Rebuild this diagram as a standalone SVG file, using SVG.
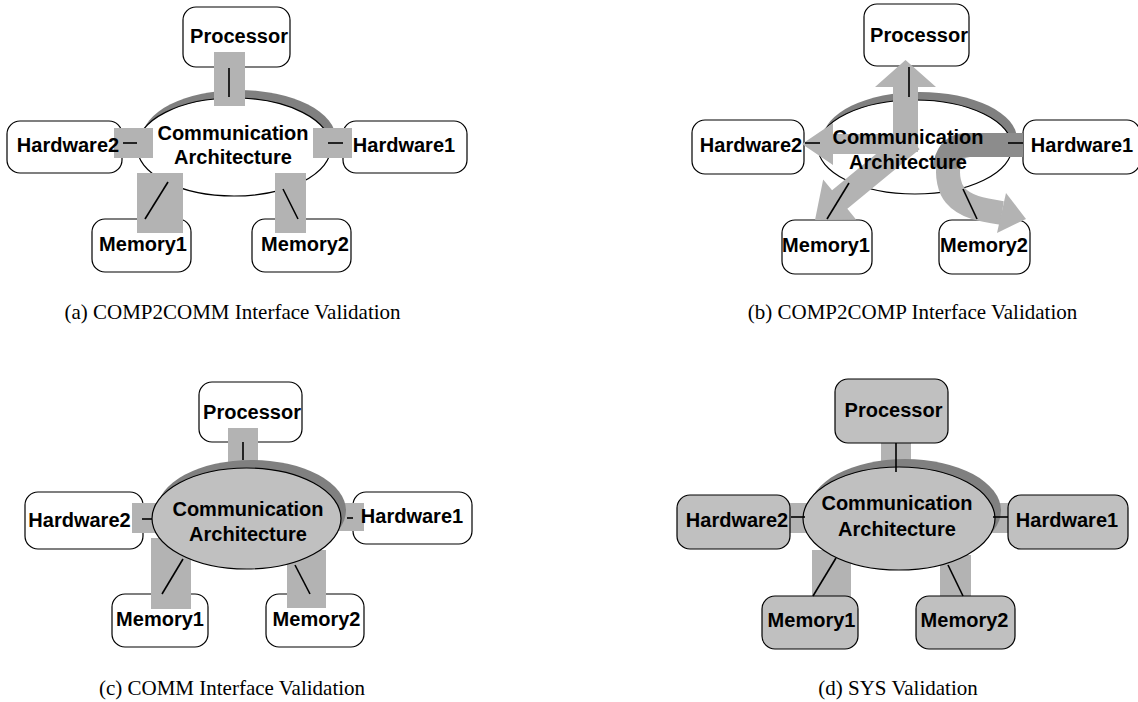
<svg xmlns="http://www.w3.org/2000/svg" width="1138" height="702" viewBox="0 0 1138 702">
<style>
.box{fill:#fff;stroke:#000;stroke-width:1.2}
.gbox{fill:#c0c0c0;stroke:#000;stroke-width:1.2}
.ell{fill:#fff;stroke:#000;stroke-width:1.2}
.gell{fill:#c0c0c0;stroke:#000;stroke-width:1.2}
.shadow{fill:#808080}
.port{fill:#b3b3b3}
.arr{fill:#b3b3b3}
.wire{stroke:#000;stroke-width:1.6;fill:none}
.lbl{font-family:"Liberation Sans",Arial,sans-serif;font-weight:bold;font-size:20px;text-anchor:middle;fill:#000}
.cap{font-family:"Liberation Serif","Times New Roman",serif;font-size:21px;text-anchor:middle;fill:#000}
</style>
<rect width="1138" height="702" fill="#fff"/>

<!-- Panel (a) -->
<g id="panel-a">
  <g id="a-comm">
    <ellipse class="shadow" cx="239" cy="139" rx="97" ry="49"/>
    <ellipse class="ell" cx="234" cy="147" rx="97" ry="49"/>
  </g>
  <g id="a-processor"><rect class="box" x="183" y="7" width="107" height="60" rx="13"/></g>
  <g id="a-hardware2"><rect class="box" x="7" y="121" width="115" height="52" rx="13"/></g>
  <g id="a-hardware1"><rect class="box" x="343" y="121" width="124" height="52" rx="13"/></g>
  <g id="a-memory1"><rect class="box" x="92" y="219" width="99" height="53" rx="13"/></g>
  <g id="a-memory2"><rect class="box" x="252" y="219" width="99" height="53" rx="13"/></g>
  <g id="a-connectors">
    <rect class="port" x="214" y="52" width="31" height="54"/>
    <rect class="port" x="114" y="128" width="39" height="30"/>
    <rect class="port" x="313" y="128" width="39" height="30"/>
    <rect class="port" x="137" y="173" width="46" height="60"/>
    <rect class="port" x="275" y="173" width="31" height="60"/>
    <line class="wire" x1="229" y1="68" x2="229" y2="97"/>
    <line class="wire" x1="123" y1="143" x2="137" y2="143"/>
    <line class="wire" x1="328" y1="143" x2="343" y2="143"/>
    <line class="wire" x1="168" y1="182" x2="145" y2="219"/>
    <line class="wire" x1="283" y1="189" x2="298" y2="219"/>
  </g>
  <g id="a-labels">
    <text class="lbl" x="239" y="43">Processor</text>
    <text class="lbl" x="68" y="152">Hardware2</text>
    <text class="lbl" x="404" y="152">Hardware1</text>
    <text class="lbl" x="143" y="251">Memory1</text>
    <text class="lbl" x="305" y="251">Memory2</text>
    <text class="lbl" x="233" y="140">Communication</text>
    <text class="lbl" x="233" y="164">Architecture</text>
  </g>
  <text class="cap" x="232.5" y="319">(a) COMP2COMM Interface Validation</text>
</g>

<!-- Panel (b) -->
<g id="panel-b">
  <g id="b-comm">
    <ellipse class="shadow" cx="920" cy="139" rx="97" ry="47"/>
    <ellipse class="ell" cx="915" cy="147" rx="97" ry="47"/>
  </g>
  <g id="b-processor"><rect class="box" x="864" y="4" width="105" height="62" rx="13"/></g>
  <g id="b-hardware2"><rect class="box" x="692" y="120" width="112" height="54" rx="13"/></g>
  <g id="b-hardware1"><rect class="box" x="1023" y="120" width="117" height="54" rx="13"/></g>
  <g id="b-memory1"><rect class="box" x="782" y="220" width="90" height="54" rx="13"/></g>
  <g id="b-memory2"><rect class="box" x="939" y="220" width="91" height="54" rx="13"/></g>
  <g id="b-connectors">
    <path d="M1023,145 L970,145 C944,145 944,182 955,195 C965,207 982,210 1002,213" fill="none" stroke="#b3b3b3" stroke-width="24"/>
    <path d="M1023,145 L966,145 C952,145 946,156 945,168" fill="none" stroke="#8c8c8c" stroke-width="24"/>
    <polygon class="arr" points="1006,193 1026,219 997,233"/>
    <polygon class="arr" points="893,152 893,87 875,87 905.5,60 936,87 918,87 918,152"/>
    <polygon class="arr" points="905,134 833,134 833,123 802,144 833,165 833,154 905,154"/>
    <polygon class="arr" transform="translate(912,140) rotate(140.5)" points="0,-12 93.7,-12 93.7,-26 125.7,0 93.7,26 93.7,12 0,12"/>
    <line class="wire" x1="909" y1="67" x2="909" y2="97"/>
    <line class="wire" x1="805" y1="143" x2="820" y2="143"/>
    <line class="wire" x1="1008" y1="143" x2="1023" y2="143"/>
    <line class="wire" x1="849" y1="183" x2="827" y2="219"/>
    <line class="wire" x1="963" y1="189" x2="977" y2="219"/>
  </g>
  <g id="b-labels">
    <text class="lbl" x="919" y="42">Processor</text>
    <text class="lbl" x="751" y="152">Hardware2</text>
    <text class="lbl" x="1082" y="152">Hardware1</text>
    <text class="lbl" x="826" y="252">Memory1</text>
    <text class="lbl" x="984" y="252">Memory2</text>
    <text class="lbl" x="908" y="144">Communication</text>
    <text class="lbl" x="908" y="169">Architecture</text>
  </g>
  <text class="cap" x="912.5" y="319">(b) COMP2COMP Interface Validation</text>
</g>

<!-- Panel (c) -->
<g id="panel-c">
  <g id="c-processor"><rect class="box" x="199" y="382" width="103" height="60" rx="13"/></g>
  <g id="c-hardware2"><rect class="box" x="25" y="492" width="118" height="57" rx="13"/></g>
  <g id="c-hardware1"><rect class="box" x="353" y="492" width="119" height="52" rx="13"/></g>
  <g id="c-memory1"><rect class="box" x="112" y="594" width="96" height="53" rx="13"/></g>
  <g id="c-memory2"><rect class="box" x="266" y="594" width="98" height="53" rx="13"/></g>
  <g id="c-ports">
    <rect class="port" x="228" y="428" width="30" height="40"/>
    <rect class="port" x="132" y="503" width="28" height="30"/>
    <rect class="port" x="338" y="503" width="26" height="28"/>
    <rect class="port" x="151" y="538" width="40" height="71"/>
    <rect class="port" x="287" y="550" width="39" height="58"/>
  </g>
  <g id="c-comm">
    <ellipse class="shadow" cx="251.5" cy="510.5" rx="94.5" ry="50.5"/>
    <ellipse class="gell" cx="246.5" cy="518.5" rx="94.5" ry="50.5"/>
  </g>
  <g id="c-connectors">
    <line class="wire" x1="243" y1="442" x2="243" y2="460"/>
    <line class="wire" x1="142" y1="519" x2="152" y2="519"/>
    <line class="wire" x1="347" y1="518" x2="353" y2="518"/>
    <line class="wire" x1="183" y1="559" x2="162" y2="594"/>
    <line class="wire" x1="295" y1="565" x2="310" y2="594"/>
  </g>
  <g id="c-labels">
    <text class="lbl" x="252" y="419">Processor</text>
    <text class="lbl" x="79.5" y="527">Hardware2</text>
    <text class="lbl" x="412" y="523">Hardware1</text>
    <text class="lbl" x="160" y="626">Memory1</text>
    <text class="lbl" x="316.5" y="626">Memory2</text>
    <text class="lbl" x="248" y="516">Communication</text>
    <text class="lbl" x="248" y="541">Architecture</text>
  </g>
  <text class="cap" x="232" y="695">(c) COMM Interface Validation</text>
</g>

<!-- Panel (d) -->
<g id="panel-d">
  <g id="d-ports">
    <rect class="port" x="881" y="440" width="30" height="35"/>
    <rect class="port" x="785" y="503" width="25" height="30"/>
    <rect class="port" x="990" y="503" width="20" height="30"/>
    <rect class="port" x="812" y="550" width="39" height="48"/>
    <rect class="port" x="940" y="555" width="31" height="43"/>
  </g>
  <g id="d-comm">
    <ellipse class="shadow" cx="905" cy="510.5" rx="96" ry="51.5"/>
    <ellipse class="gell" cx="899" cy="518.5" rx="96" ry="51.5"/>
  </g>
  <g id="d-processor"><rect class="gbox" x="835" y="379" width="113" height="64" rx="13"/></g>
  <g id="d-hardware2"><rect class="gbox" x="677" y="495" width="113" height="54" rx="13"/></g>
  <g id="d-hardware1"><rect class="gbox" x="1008" y="495" width="120" height="54" rx="13"/></g>
  <g id="d-memory1"><rect class="gbox" x="762" y="596" width="96" height="53" rx="13"/></g>
  <g id="d-memory2"><rect class="gbox" x="916" y="596" width="99" height="53" rx="13"/></g>
  <g id="d-connectors">
    <line class="wire" x1="896" y1="443" x2="896" y2="472"/>
    <line class="wire" x1="791" y1="517" x2="805" y2="517"/>
    <line class="wire" x1="993" y1="517" x2="1008" y2="517"/>
    <line class="wire" x1="836" y1="558" x2="813" y2="596"/>
    <line class="wire" x1="948" y1="565" x2="963" y2="596"/>
  </g>
  <g id="d-labels">
    <text class="lbl" x="893.5" y="417">Processor</text>
    <text class="lbl" x="737" y="527">Hardware2</text>
    <text class="lbl" x="1067" y="527">Hardware1</text>
    <text class="lbl" x="811.5" y="627">Memory1</text>
    <text class="lbl" x="964.5" y="627">Memory2</text>
    <text class="lbl" x="897" y="510">Communication</text>
    <text class="lbl" x="897" y="536">Architecture</text>
  </g>
  <text class="cap" x="898" y="695">(d) SYS Validation</text>
</g>
</svg>
